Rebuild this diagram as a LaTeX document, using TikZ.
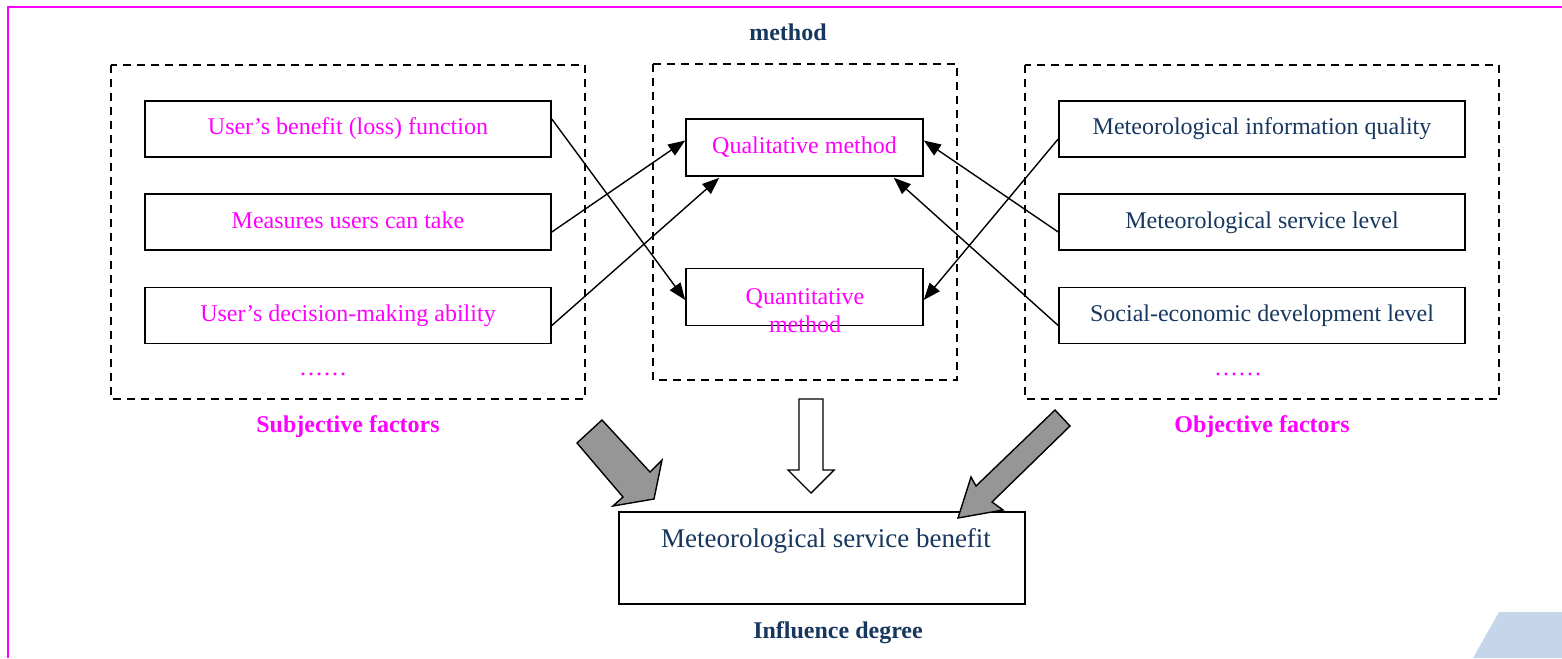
\documentclass[tikz,border=0pt]{standalone}
\usepackage{fontspec}
\setmainfont{Liberation Serif}
\usetikzlibrary{arrows.meta,calc}
\definecolor{mag}{HTML}{FF00FF}
\definecolor{navy}{HTML}{17375E}
\definecolor{panel}{HTML}{C6D6EA}
\definecolor{blockgray}{HTML}{969696}
\begin{document}
\begin{tikzpicture}[x=1pt,y=-1pt,
  box/.style={draw,line width=1.6pt,minimum width=406pt,minimum height=56pt,inner sep=0pt,
    text height=16pt,text depth=4pt,font=\fontsize{24}{28}\selectfont},
  midbox/.style={box,minimum width=237pt,minimum height=57pt},
  group/.style={draw,line width=1.5pt,dash pattern=on 8pt off 6pt},
  link/.style={line width=1.4pt,-{Triangle[length=17pt,width=13pt]}},
  heading/.style={anchor=base,font=\fontsize{24}{28}\selectfont\bfseries},
  block/.style={draw,line width=1.4pt,line join=miter}
]
\useasboundingbox (0,0) rectangle (1562,658);

% outer frame (top and left edges)
\draw[mag,line width=2pt] (8,658) -- (8,7) -- (1562,7);

% decorative corner panel
\fill[panel] (1499,612) -- (1562,612) -- (1562,658) -- (1473,658) -- cycle;

% group frames
\draw[group] (111,65) rectangle (585,399);
\draw[group] (653,64) rectangle (957,380);
\draw[group] (1025,65) rectangle (1499,399);

% headings
\node[heading,text=navy] (hmethod) at (788,41) {method};
\node[heading,text=mag] (hsubj) at (348,432) {Subjective factors};
\node[heading,text=mag] (hobj) at (1262,432) {Objective factors};
\node[heading,text=navy] (hinfl) at (838,638) {Influence degree};

% subjective factors
\node[box,text=mag] (l1) at (348,129) {User’s benefit (loss) function};
\node[box,text=mag] (l2) at (348,222) {Measures users can take};
\node[box,text=mag] (l3) at (348,315.5) {User’s decision-making ability};
\node[text=mag,font=\fontsize{24}{28}\selectfont] (ldots) at (323,374) {……};

% objective factors
\node[box,text=navy] (r1) at (1262,129) {Meteorological information quality};
\node[box,text=navy] (r2) at (1262,222) {Meteorological service level};
\node[box,text=navy] (r3) at (1262,315.5) {Social-economic development level};
\node[text=mag,font=\fontsize{24}{28}\selectfont] (rdots) at (1238,374) {……};

% methods
\node[midbox,text=mag] (ql) at (804.5,147.5) {Qualitative method};
\node[midbox] (qn) at (804.5,297) {};
\node[text=mag,align=center,font=\fontsize{24}{28}\selectfont,inner sep=0pt] (qntext) at (805,311) {Quantitative\\method};

% result
\node[box,minimum height=92pt] (res) at (822,558) {};
\node[anchor=base,text=navy,font=\fontsize{27}{30}\selectfont,inner sep=0pt] (restext) at (826,547) {Meteorological service benefit};

% connectors
\draw[link] ($(l1.east)+(0,-10)$) -- ($(qn.west)+(0,3)$);
\draw[link] ($(l2.east)+(0,10)$) -- ($(ql.west)+(0,-7)$);
\draw[link] ($(l3.east)+(0,10)$) -- ($(ql.south west)+(34,1)$);
\draw[link] ($(r1.west)+(0,10)$) -- ($(qn.east)+(0,3)$);
\draw[link] ($(r2.west)+(0,10)$) -- ($(ql.east)+(0,-7)$);
\draw[link] ($(r3.west)+(0,10)$) -- ($(ql.south east)+(-30,1)$);

% block arrows into the result
\draw[block,fill=blockgray] (602,420) -- (650,472) -- (662,460) -- (654,499) -- (613,506) -- (623,497) -- (577,443) -- cycle;
\draw[block,fill=blockgray] (1055,410) -- (1070,426) -- (992,502) -- (1003,510) -- (958,518) -- (971,477) -- (976,486) -- cycle;
\draw[block,fill=white] (799,399) -- (823,399) -- (823,470) -- (834,470) -- (811,493) -- (788,470) -- (799,470) -- cycle;
\end{tikzpicture}
\end{document}
